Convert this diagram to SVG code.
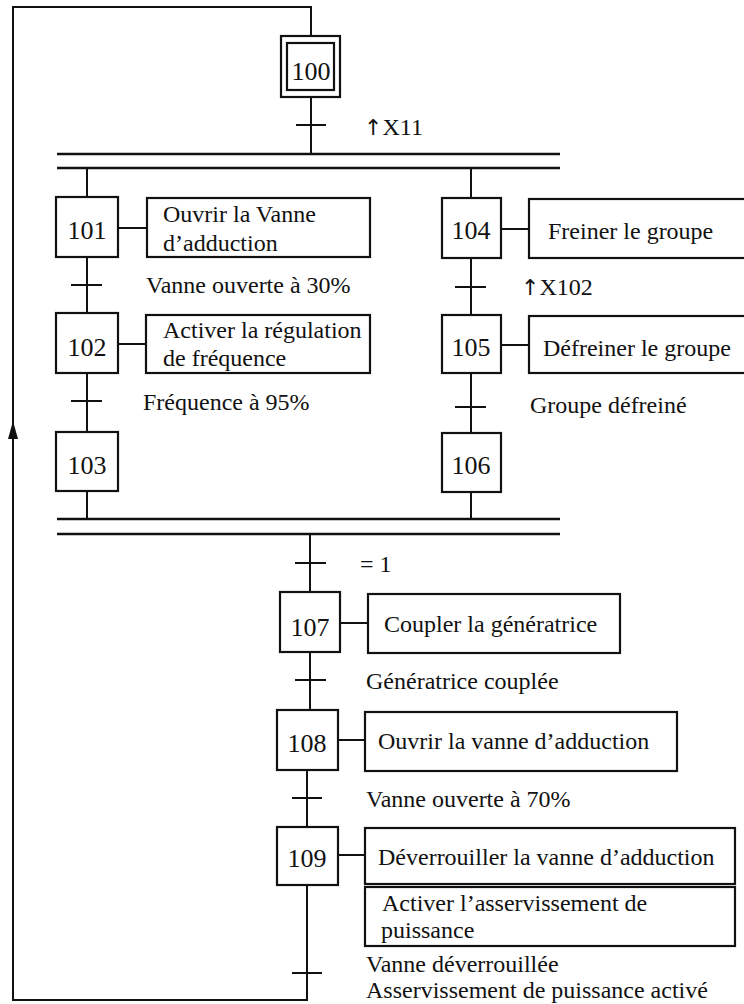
<svg xmlns="http://www.w3.org/2000/svg" width="744" height="1004" viewBox="0 0 744 1004" font-family="'Liberation Serif', 'DejaVu Serif', serif">
  <style>
    .ln { stroke: #111; stroke-width: 2; fill: none; }
    .bar { stroke: #111; stroke-width: 2.6; fill: none; }
    .box { stroke: #111; stroke-width: 2.2; fill: #fff; }
    .num { font-family: 'Liberation Serif', 'DejaVu Serif', serif; font-size: 26px; fill: #111; text-anchor: middle; }
    .txt { font-family: 'Liberation Serif', 'DejaVu Serif', serif; font-size: 24px; fill: #111; }
    .up { font-family: 'DejaVu Sans', sans-serif; font-size: 22px; fill: #111; }
  </style>
  <rect width="744" height="1004" fill="#fff"/>

  <!-- links, transitions and synchronisation bars -->
  <g id="connectors">
    <!-- loop back from 109 to initial step -->
    <path class="ln" d="M307 885 V1000 H13 V7 H311 V36"/>
    <path d="M13 421 L18 439 L8 439 Z" fill="#111"/>
    <!-- 100 -> divergence -->
    <path class="ln" d="M311 97 V154"/>
    <path class="ln" d="M296 125 H326"/>
    <!-- AND divergence -->
    <path class="bar" d="M57 154 H560 M57 168 H560"/>
    <!-- left branch -->
    <path class="ln" d="M87 168 V197 M87 257 V313 M87 373 V432 M87 491 V519"/>
    <path class="ln" d="M71 285 H102 M71 401 H102"/>
    <!-- right branch -->
    <path class="ln" d="M471 168 V198 M471 258 V315 M471 373 V433 M471 492 V519"/>
    <path class="ln" d="M455 287 H486 M455 407 H486"/>
    <!-- AND convergence -->
    <path class="bar" d="M57 519 H560 M57 534 H560"/>
    <!-- final sequence -->
    <path class="ln" d="M310 534 V592 M310 652 V710 M307 770 V827"/>
    <path class="ln" d="M295 563 H326 M295 680 H326 M292 798 H322 M292 973 H322"/>
    <!-- action links -->
    <path class="ln" d="M118 228 H147 M118 344 H146 M501 229 H529 M501 345 H529"/>
    <path class="ln" d="M340 623 H368 M338 740 H365 M338 855 H365"/>
  </g>

  <g id="step100">
    <rect class="box" x="281" y="36" width="59" height="61"/>
    <rect class="box" x="287" y="43" width="47" height="47"/>
    <text class="num" x="311" y="80">100</text>
  </g>
  <text id="t100" class="txt" x="364" y="135"><tspan class="up">↑</tspan>X11</text>

  <g id="step101">
    <rect class="box" x="56" y="197" width="62" height="60"/>
    <text class="num" x="87" y="239">101</text>
    <rect class="box" x="147" y="198" width="223" height="59"/>
    <text class="txt" x="163" y="222">Ouvrir la Vanne</text>
    <text class="txt" x="163" y="251">d’adduction</text>
  </g>
  <text id="t101" class="txt" x="146" y="293">Vanne ouverte à 30%</text>

  <g id="step102">
    <rect class="box" x="56" y="313" width="62" height="60"/>
    <text class="num" x="87" y="356">102</text>
    <rect class="box" x="146" y="315" width="224" height="58"/>
    <text class="txt" x="163" y="338">Activer la régulation</text>
    <text class="txt" x="163" y="366">de fréquence</text>
  </g>
  <text id="t102" class="txt" x="143" y="410">Fréquence à 95%</text>

  <g id="step103">
    <rect class="box" x="56" y="432" width="62" height="59"/>
    <text class="num" x="87" y="474">103</text>
  </g>

  <g id="step104">
    <rect class="box" x="442" y="198" width="59" height="60"/>
    <text class="num" x="471" y="239">104</text>
    <rect class="box" x="529" y="199" width="230" height="59"/>
    <text class="txt" x="548" y="239">Freiner le groupe</text>
  </g>
  <text id="t104" class="txt" x="521" y="295"><tspan class="up">↑</tspan>X102</text>

  <g id="step105">
    <rect class="box" x="442" y="315" width="59" height="58"/>
    <text class="num" x="471" y="356">105</text>
    <rect class="box" x="529" y="316" width="230" height="57"/>
    <text class="txt" x="543" y="356">Défreiner le groupe</text>
  </g>
  <text id="t105" class="txt" x="530" y="413">Groupe défreiné</text>

  <g id="step106">
    <rect class="box" x="442" y="433" width="59" height="59"/>
    <text class="num" x="471" y="474">106</text>
  </g>

  <text id="t106" class="txt" x="360" y="572">= 1</text>

  <g id="step107">
    <rect class="box" x="280" y="592" width="60" height="60"/>
    <text class="num" x="310" y="636">107</text>
    <rect class="box" x="368" y="594" width="252" height="59"/>
    <text class="txt" x="384" y="632">Coupler la génératrice</text>
  </g>
  <text id="t107" class="txt" x="366" y="689">Génératrice couplée</text>

  <g id="step108">
    <rect class="box" x="277" y="710" width="61" height="60"/>
    <text class="num" x="307" y="752">108</text>
    <rect class="box" x="365" y="712" width="312" height="59"/>
    <text class="txt" x="378" y="749">Ouvrir la vanne d’adduction</text>
  </g>
  <text id="t108" class="txt" x="366" y="807">Vanne ouverte à 70%</text>

  <g id="step109">
    <rect class="box" x="277" y="827" width="61" height="58"/>
    <text class="num" x="307" y="867">109</text>
    <rect class="box" x="365" y="828" width="370" height="56"/>
    <text class="txt" x="378" y="865">Déverrouiller la vanne d’adduction</text>
    <rect class="box" x="365" y="887" width="370" height="59"/>
    <text class="txt" x="382" y="911">Activer l’asservissement de</text>
    <text class="txt" x="381" y="938">puissance</text>
  </g>
  <text id="t109a" class="txt" x="366" y="972">Vanne déverrouillée</text>
  <text id="t109b" class="txt" x="366" y="998">Asservissement de puissance activé</text>
</svg>
